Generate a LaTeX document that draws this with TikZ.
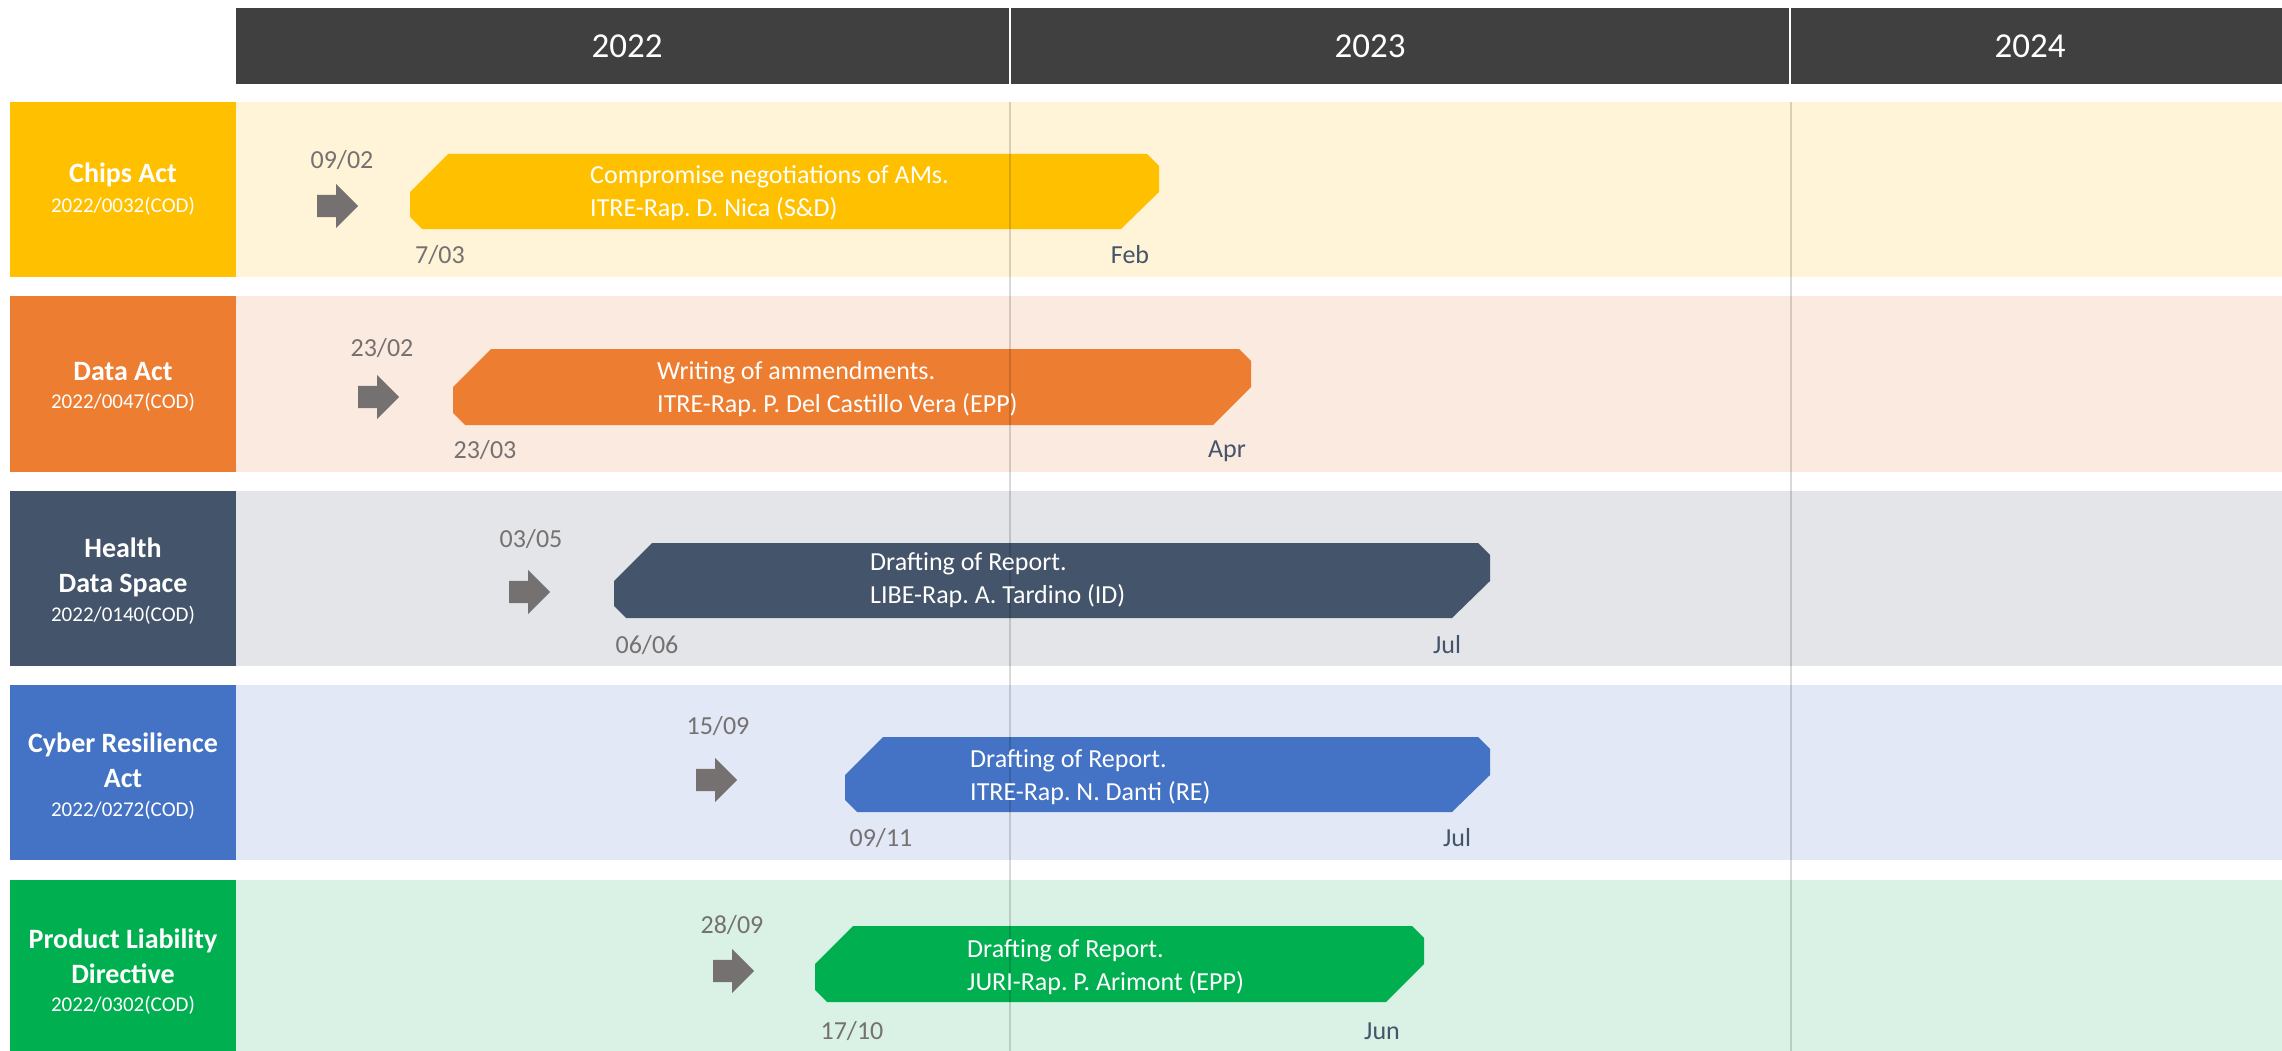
\documentclass[tikz,border=0pt]{standalone}
\usepackage{fontspec}
\setmainfont{Carlito}
\usetikzlibrary{shapes.arrows}

\definecolor{headgray}{HTML}{404040}
\definecolor{chipsbox}{HTML}{FFC000}
\definecolor{chipsband}{HTML}{FFF4D7}
\definecolor{databox}{HTML}{ED7D31}
\definecolor{databand}{HTML}{FBEAE0}
\definecolor{healthbox}{HTML}{44546A}
\definecolor{healthband}{HTML}{E3E5E9}
\definecolor{cyberbox}{HTML}{4472C4}
\definecolor{cyberband}{HTML}{E2E8F5}
\definecolor{prodbox}{HTML}{00B050}
\definecolor{prodband}{HTML}{DAF2E5}
\definecolor{dategray}{HTML}{767171}
\definecolor{monthblue}{HTML}{44546A}

% phase bar: left, top, right, bottom, colour
\newcommand{\phasebar}[5]{%
  \fill[#5] ({#1+38},#2) -- ({#3-12},#2) -- (#3,{#2+12}) -- (#3,{#2+38})
    -- ({#3-38},#4) -- ({#1+12},#4) -- (#1,{#4-12}) -- (#1,{#2+38}) -- cycle;}

\tikzset{
  yearlbl/.style={text=white, font=\fontsize{35}{42}\selectfont},
  acttitle/.style={text=white, font=\fontsize{28}{35}\selectfont\bfseries, align=center},
  actcode/.style={text=white, font=\fontsize{21}{25}\selectfont},
  datelbl/.style={text=dategray, font=\fontsize{26}{31}\selectfont},
  monthlbl/.style={text=monthblue, font=\fontsize{26}{31}\selectfont},
  bartext/.style={text=white, font=\fontsize{26}{33}\selectfont, align=left, anchor=west, inner sep=0pt},
  startarrow/.style={single arrow, fill=dategray, inner sep=11pt, minimum height=41pt,
    minimum width=44pt, single arrow head extend=11pt, anchor=tail},
  gridline/.style={black, opacity=0.15, line width=2.5pt}
}

\begin{document}
\frenchspacing
\begin{tikzpicture}[x=1pt,y=-1pt]

  \useasboundingbox (0,0) rectangle (2282,1051);

  % bands
  \fill[chipsband] (236,102) rectangle (2282,277);
  \fill[databand] (236,296) rectangle (2282,472);
  \fill[healthband] (236,491) rectangle (2282,666);
  \fill[cyberband] (236,685) rectangle (2282,860);
  \fill[prodband] (236,880) rectangle (2282,1051);

  % act boxes
  \fill[chipsbox] (10,102) rectangle (236,277);
  \fill[databox] (10,296) rectangle (236,472);
  \fill[healthbox] (10,491) rectangle (236,666);
  \fill[cyberbox] (10,685) rectangle (236,860);
  \fill[prodbox] (10,880) rectangle (236,1051);

  % year header
  \fill[headgray] (236,8) rectangle (2282,84);
  \draw[white, line width=2pt] (1010,8) -- (1010,84);
  \draw[white, line width=2pt] (1790,8) -- (1790,84);
  \node[yearlbl] (y2022) at (627,46) {2022};
  \node[yearlbl] (y2023) at (1370,46) {2023};
  \node[yearlbl] (y2024) at (2030,46) {2024};

  % phase bars
  \phasebar{410}{154}{1159}{229}{chipsbox}
  \phasebar{453}{349}{1251}{425}{databox}
  \phasebar{614}{543}{1490}{618}{healthbox}
  \phasebar{845}{737}{1490}{812}{cyberbox}
  \phasebar{815}{926}{1424}{1002}{prodbox}

  % year lines
  \draw[gridline] (1010,102) -- (1010,1051);
  \draw[gridline] (1791,102) -- (1791,1051);

  % act names
  \node[acttitle] (chipsT) at (123,175) {Chips Act};
  \node[actcode] (chipsC) at (123,206) {2022/0032(COD)};
  \node[acttitle] (dataT) at (123,372) {Data Act};
  \node[actcode] (dataC) at (123,402) {2022/0047(COD)};
  \node[acttitle] (healthT) at (123,567) {Health\\Data Space};
  \node[actcode] (healthC) at (123,615) {2022/0140(COD)};
  \node[acttitle] (cyberT) at (123,760) {Cyber Resilience\\Act};
  \node[actcode] (cyberC) at (123,810) {2022/0272(COD)};
  \node[acttitle] (prodT) at (123,956) {Product Liability\\Directive};
  \node[actcode] (prodC) at (123,1005) {2022/0302(COD)};

  % proposal dates
  \node[datelbl] (chipsP) at (342,160) {09/02};
  \node[startarrow] (chipsA) at (317,206) {};
  \node[datelbl] (dataP) at (382,348) {23/02};
  \node[startarrow] (dataA) at (358,397) {};
  \node[datelbl] (healthP) at (531,539) {03/05};
  \node[startarrow] (healthA) at (509,592) {};
  \node[datelbl] (cyberP) at (718,726) {15/09};
  \node[startarrow] (cyberA) at (696,780) {};
  \node[datelbl] (prodP) at (732,925) {28/09};
  \node[startarrow] (prodA) at (713,971) {};

  % bar texts
  \node[bartext] (chipsB) at (590,193) {Compromise negotiations of AMs.\\ITRE-Rap. D. Nica (S\&D)};
  \node[bartext] (dataB) at (657,389) {Writing of ammendments.\\ITRE-Rap. P. Del Castillo Vera (EPP)};
  \node[bartext] (healthB) at (870,580) {Drafting of Report.\\LIBE-Rap. A. Tardino (ID)};
  \node[bartext] (cyberB) at (970,777) {Drafting of Report.\\ITRE-Rap. N. Danti (RE)};
  \node[bartext] (prodB) at (967,967) {Drafting of Report.\\JURI-Rap. P. Arimont (EPP)};

  % start and end
  \node[datelbl] (chipsS) at (440,255) {7/03};
  \node[monthlbl] (chipsE) at (1130,255) {Feb};
  \node[datelbl] (dataS) at (485,450) {23/03};
  \node[monthlbl] (dataE) at (1227,451) {Apr};
  \node[datelbl] (healthS) at (647,645) {06/06};
  \node[monthlbl] (healthE) at (1447,645) {Jul};
  \node[datelbl] (cyberS) at (881,838) {09/11};
  \node[monthlbl] (cyberE) at (1457,838) {Jul};
  \node[datelbl] (prodS) at (852,1031) {17/10};
  \node[monthlbl] (prodE) at (1382,1031) {Jun};

\end{tikzpicture}
\end{document}
